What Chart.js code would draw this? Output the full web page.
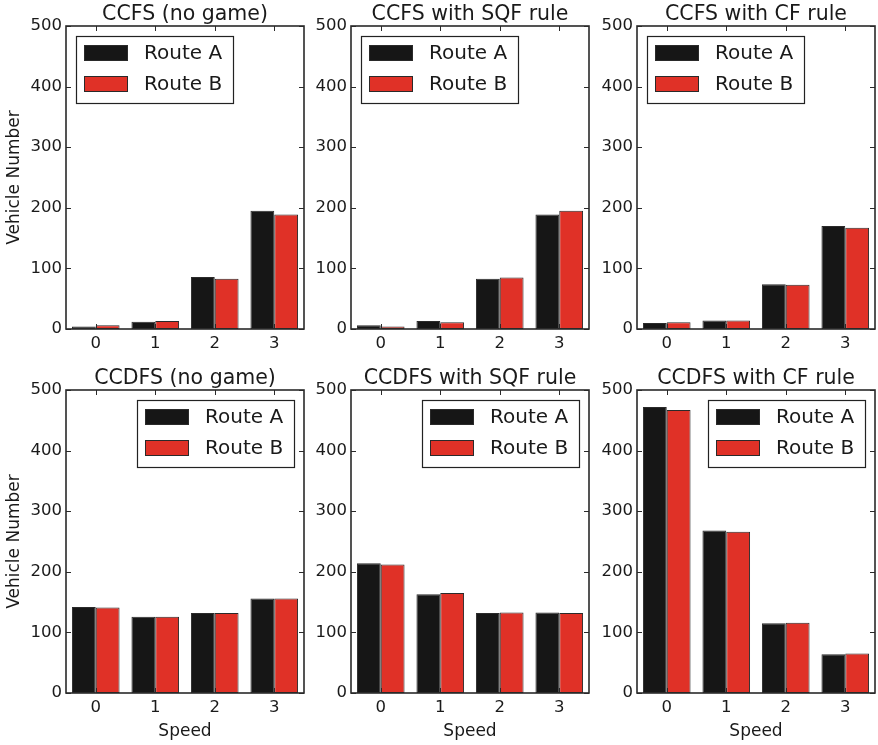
<!DOCTYPE html>
<html>
<head>
<meta charset="utf-8">
<script src="https://cdn.jsdelivr.net/npm/chart.js@4.4.1/dist/chart.umd.min.js"></script>
<style>
  html, body { margin: 0; padding: 0; background: #fff; }
  #wrap { position: relative; width: 878px; height: 745px; overflow: hidden; }
  canvas { position: absolute; }
</style>
</head>
<body>
<div id="wrap"></div>
<script>
// data
const speeds = ["0", "1", "2", "3"];
const yTicks = [0, 100, 200, 300, 400, 500];
const seriesNames = ["Route A", "Route B"];

const titles = [
    "CCFS (no game)", "CCFS with SQF rule", "CCFS with CF rule",
    "CCDFS (no game)", "CCDFS with SQF rule", "CCDFS with CF rule",
];

const ccfsNoGameA = [4, 12, 86, 195];
const ccfsNoGameB = [6, 13, 83, 189];
const ccfsSqfA = [6, 13, 83, 189];
const ccfsSqfB = [4, 11, 85, 195];
const ccfsCfA = [10, 14, 74, 170];
const ccfsCfB = [11, 14, 73, 167];
const ccdfsNoGameA = [142, 126, 132, 156];
const ccdfsNoGameB = [141, 126, 132, 156];
const ccdfsSqfA = [214, 163, 132, 133];
const ccdfsSqfB = [212, 165, 133, 132];
const ccdfsCfA = [472, 268, 115, 64];
const ccdfsCfB = [467, 266, 116, 65];

const routeA = [ccfsNoGameA, ccfsSqfA, ccfsCfA, ccdfsNoGameA, ccdfsSqfA, ccdfsCfA];
const routeB = [ccfsNoGameB, ccfsSqfB, ccfsCfB, ccdfsNoGameB, ccdfsSqfB, ccdfsCfB];

const colorA = "#161616";
const colorB = "#e03127";
const edge = "#2a2a2a";
const FONT = "'DejaVu Sans', sans-serif";

// panel layout (chart area positions)
const colLeft = [66, 351, 637];
const rowTop = [26, 390];
const plotW = 238;
const plotH = 303;

// frame, inward ticks on all sides, title and legend inside the plot
const framePlugin = {
    id: "frame",
    afterDraw(chart, args, opts) {
        const { ctx, chartArea: a, scales } = chart;
        ctx.save();
        ctx.strokeStyle = edge;
        ctx.lineWidth = 1;
        ctx.beginPath();
        scales.y.ticks.forEach(t => {
            const y = Math.round(scales.y.getPixelForValue(t.value)) + 0.5;
            ctx.moveTo(a.left, y); ctx.lineTo(a.left + 5, y);
            ctx.moveTo(a.right, y); ctx.lineTo(a.right - 5, y);
        });
        speeds.forEach((s, i) => {
            const x = Math.round(scales.x.getPixelForValue(i)) + 0.5;
            ctx.moveTo(x, a.bottom); ctx.lineTo(x, a.bottom - 5);
            ctx.moveTo(x, a.top); ctx.lineTo(x, a.top + 5);
        });
        ctx.stroke();

        ctx.lineWidth = 1.6;
        ctx.strokeRect(a.left, a.top, a.right - a.left, a.bottom - a.top);

        // title
        ctx.fillStyle = "#1a1a1a";
        ctx.font = "20.5px " + FONT;
        ctx.textAlign = "center";
        ctx.textBaseline = "alphabetic";
        ctx.fillText(opts.title, (a.left + a.right) / 2, a.top - 6.5);

        // legend box
        const bw = 157, bh = 67;
        const bx = opts.legendRight ? a.right - 10 - bw : a.left + 10;
        const by = a.top + 10;
        ctx.fillStyle = "#fff";
        ctx.fillRect(bx, by, bw, bh);
        ctx.lineWidth = 1.2;
        ctx.strokeStyle = "#222";
        ctx.strokeRect(bx + 0.5, by + 0.5, bw, bh);

        chart.data.datasets.forEach((ds, i) => {
            const sy = by + 9 + i * 31;
            ctx.fillStyle = ds.backgroundColor;
            ctx.fillRect(bx + 8, sy, 43, 16);
            ctx.lineWidth = 1;
            ctx.strokeStyle = edge;
            ctx.strokeRect(bx + 8.5, sy + 0.5, 43, 15);
            ctx.fillStyle = "#1a1a1a";
            ctx.font = "20px " + FONT;
            ctx.textAlign = "left";
            ctx.textBaseline = "middle";
            ctx.fillText(ds.label, bx + 68, sy + 8.5);
        });
        ctx.restore();
    }
};

function makePanel(idx) {
    const row = Math.floor(idx / 3);
    const col = idx % 3;
    const axW = col === 0 ? 66 : 48;
    const padTop = row === 0 ? 26 : 30;
    const axH = row === 0 ? 28 : 50;
    const left = colLeft[col] - axW;
    const top = rowTop[row] - padTop;
    const w = axW + plotW + 3;
    const h = padTop + plotH + axH;

    const canvas = document.createElement("canvas");
    canvas.width = w;
    canvas.height = h;
    canvas.style.left = left + "px";
    canvas.style.top = top + "px";
    canvas.style.width = w + "px";
    canvas.style.height = h + "px";
    document.getElementById("wrap").appendChild(canvas);

    new Chart(canvas.getContext("2d"), {
        type: "bar",
        data: {
            labels: speeds,
            datasets: [
                {
                    label: seriesNames[0],
                    data: routeA[idx],
                    backgroundColor: colorA,
                    borderColor: edge,
                    borderWidth: 1,
                    borderSkipped: false,
                },
                {
                    label: seriesNames[1],
                    data: routeB[idx],
                    backgroundColor: colorB,
                    borderColor: edge,
                    borderWidth: 1,
                    borderSkipped: false,
                },
            ],
        },
        options: {
            responsive: false,
            animation: false,
            devicePixelRatio: 1,
            layout: { padding: { top: padTop, right: 3, left: 0, bottom: 0 } },
            datasets: { bar: { categoryPercentage: 0.8, barPercentage: 1.0 } },
            plugins: {
                legend: { display: false },
                tooltip: { enabled: false },
                title: { display: false },
                frame: { title: titles[idx], legendRight: row === 1 },
            },
            scales: {
                x: {
                    type: "category",
                    offset: true,
                    grid: { display: false, drawTicks: false },
                    border: { display: false },
                    ticks: { color: "#1a1a1a", font: { family: FONT, size: 16.5 }, padding: 5, maxRotation: 0 },
                    title: {
                        display: row === 1,
                        text: "Speed",
                        color: "#1a1a1a",
                        font: { family: FONT, size: 17 },
                        padding: { top: 0, bottom: 1 },
                    },
                    afterFit: s => { s.height = axH; },
                },
                y: {
                    min: 0,
                    max: 500,
                    afterBuildTicks: s => { s.ticks = yTicks.map(v => ({ value: v })); },
                    grid: { display: false, drawTicks: false },
                    border: { display: false },
                    ticks: { color: "#1a1a1a", font: { family: FONT, size: 16.5 }, padding: 4 },
                    title: {
                        display: col === 0,
                        text: "Vehicle Number",
                        color: "#1a1a1a",
                        font: { family: FONT, size: 17 },
                        padding: { top: 4, bottom: 4 },
                    },
                    afterFit: s => { s.width = axW; },
                },
            },
        },
        plugins: [framePlugin],
    });
}

for (let i = 0; i < 6; i++) makePanel(i);
</script>
</body>
</html>
